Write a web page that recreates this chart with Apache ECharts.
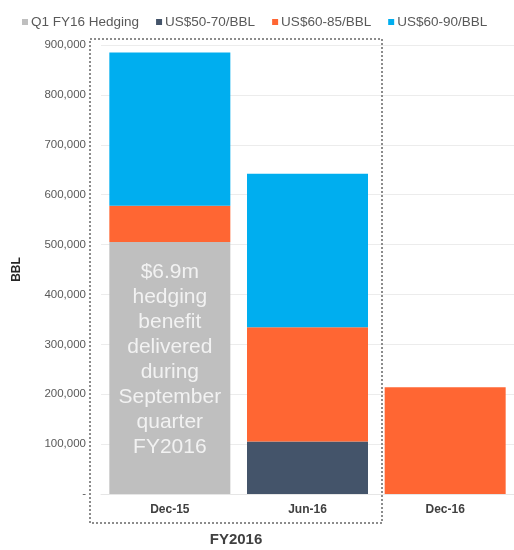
<!DOCTYPE html>
<html>
<head>
<meta charset="utf-8">
<script src="https://cdn.jsdelivr.net/npm/echarts@6/dist/echarts.min.js"></script>
<style>
  html, body { margin: 0; padding: 0; background: #fff; }
  #chart { width: 514px; height: 550px; }
</style>
</head>
<body>
<div id="chart"></div>
<script>
const categories = ['Dec-15', 'Jun-16', 'Dec-16'];
const seriesNames = ['Q1 FY16 Hedging', 'US$50-70/BBL', 'US$60-85/BBL', 'US$60-90/BBL'];
const hedging = [505000, 0, 0];
const us5070 = [0, 105000, 0];
const us6085 = [73000, 229000, 214000];
const us6090 = [307000, 308000, 0];
const yTicks = [0, 100000, 200000, 300000, 400000, 500000, 600000, 700000, 800000, 900000];
const noteLines = ['$6.9m', 'hedging', 'benefit', 'delivered', 'during', 'September', 'quarter', 'FY2016'];

const colors = ['#bfbfbf', '#44546a', '#ff6633', '#00aeef'];
const font = 'Liberation Sans, Arial, sans-serif';

const myChart = echarts.init(document.getElementById('chart'));

function barSeries(name, data, color) {
  return {
    name: name,
    type: 'bar',
    stack: 'total',
    barWidth: 121,
    data: data.map(v => (v === 0 ? null : v)),
    itemStyle: { color: color },
  };
}

const series = [
  barSeries(seriesNames[0], hedging, colors[0]),
  barSeries(seriesNames[1], us5070, colors[1]),
  barSeries(seriesNames[2], us6085, colors[2]),
  barSeries(seriesNames[3], us6090, colors[3]),
];

// note written inside the grey Dec-15 bar
series[0].data[0] = {
  value: hedging[0],
  label: {
    show: true,
    position: 'inside',
    offset: [0, -8],
    formatter: noteLines.join('\n'),
    color: '#f2f2f2',
    fontFamily: font,
    fontSize: 21,
    lineHeight: 25,
  },
};

const option = {
  animation: false,
  color: colors,
  textStyle: { fontFamily: font },
  legend: {
    left: 17,
    top: 10,
    itemWidth: 6,
    itemHeight: 6,
    itemGap: 17,
    icon: 'rect',
    textStyle: { color: '#595959', fontSize: 13.5, fontFamily: font, padding: [0, 0, 0, -2] },
    data: seriesNames,
  },
  grid: {
    left: 101,
    right: -2,
    top: 45,
    bottom: 56,
  },
  xAxis: {
    type: 'category',
    data: categories,
    axisLine: { show: true, lineStyle: { color: '#e6e6e6' } },
    axisTick: { show: false },
    axisLabel: { color: '#404040', fontSize: 12, fontWeight: 'bold', margin: 10 },
  },
  yAxis: {
    type: 'value',
    min: 0,
    max: yTicks[yTicks.length - 1],
    interval: 100000,
    name: 'BBL',
    nameLocation: 'middle',
    nameGap: 78,
    nameRotate: 90,
    nameTextStyle: { color: '#262626', fontSize: 12, fontWeight: 'bold' },
    axisLine: { show: false },
    axisTick: { show: false },
    axisLabel: {
      color: '#595959',
      fontSize: 11.5,
      margin: 15,
      formatter: v => (v === 0 ? '-' : v.toLocaleString('en-US')),
    },
    splitLine: { lineStyle: { color: '#ececec' } },
  },
  graphic: [
    {
      type: 'rect',
      shape: { x: 90, y: 39, width: 292, height: 484 },
      style: { fill: 'none', stroke: '#8c8c8c', lineWidth: 2, lineDash: [2, 2] },
      z: 10,
    },
    {
      type: 'text',
      x: 236,
      y: 540,
      style: {
        text: 'FY2016',
        fill: '#404040',
        font: 'bold 15px ' + font,
        align: 'center',
        verticalAlign: 'middle',
      },
    },
  ],
  series: series,
};

myChart.setOption(option);
</script>
</body>
</html>
